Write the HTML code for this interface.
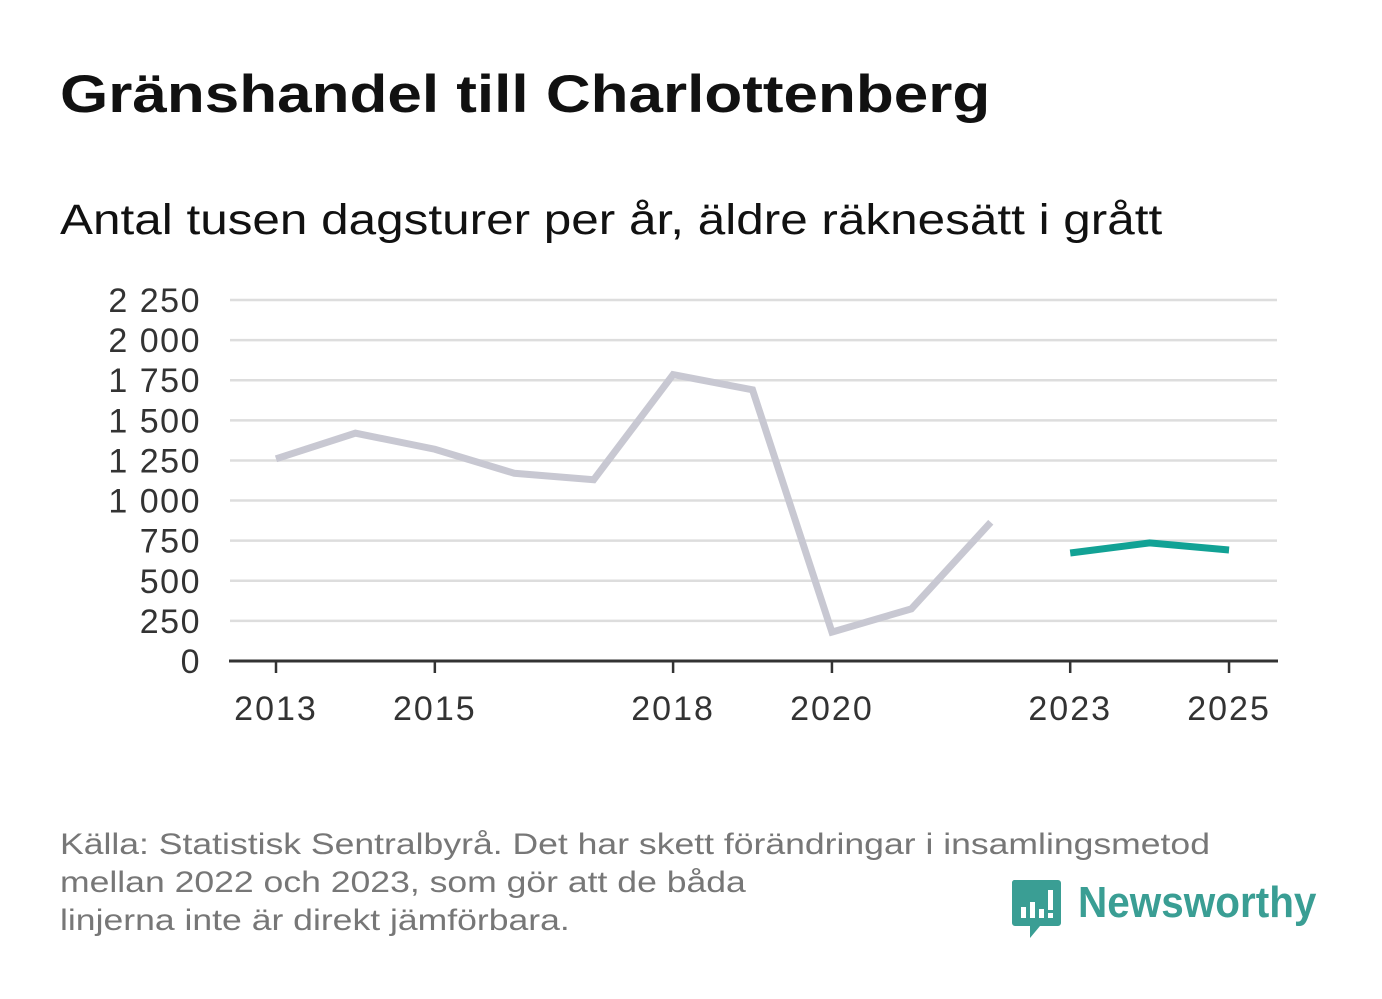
<!DOCTYPE html>
<html><head><meta charset="utf-8"><style>
body{margin:0;width:1382px;height:999px;background:#fff;font-family:"Liberation Sans","DejaVu Sans",sans-serif;overflow:hidden;position:relative}
.t,.s,.f{position:absolute;left:60px;transform-origin:0 0;white-space:nowrap}
.t{top:64px;font-size:53px;font-weight:bold;color:#111;transform:scaleX(1.17)}
.s{top:196px;font-size:43px;color:#111;transform:scaleX(1.15)}
.f{top:826px;font-size:30px;color:#777;line-height:38px;transform:scaleX(1.185)}
.logo{position:absolute;left:1012px;top:880px}
.lt{position:absolute;left:1078px;top:878px;font-size:44px;font-weight:bold;color:#3a9e94;transform-origin:0 0;transform:scaleX(0.92)}
</style></head><body>
<div class="t">Gränshandel till Charlottenberg</div>
<div class="s">Antal tusen dagsturer per år, äldre räknesätt i grått</div>
<svg id="c" width="1382" height="999" style="position:absolute;left:0;top:0"></svg>
<div class="f">Källa: Statistisk Sentralbyrå. Det har skett förändringar i insamlingsmetod<br>mellan 2022 och 2023, som gör att de båda<br>linjerna inte är direkt jämförbara.</div>
<svg class="logo" width="50" height="60">
<path d="M2 0h44a3 3 0 0 1 3 3v40a3 3 0 0 1-3 3H28l-10 12v-12H3a3 3 0 0 1-3-3V3a3 3 0 0 1 2-3z" fill="#3a9e94"/>
<rect x="9" y="27" width="5" height="11" fill="#fff"/><rect x="18" y="22" width="5" height="16" fill="#fff"/><rect x="27" y="29" width="5" height="9" fill="#fff"/><rect x="36" y="10" width="5" height="20" fill="#fff"/><rect x="36" y="33" width="5" height="5" fill="#fff"/>
</svg>
<div class="lt">Newsworthy</div>
<script>
const years=[2013,2014,2015,2016,2017,2018,2019,2020,2021,2022];
const oldValues=[1260,1420,1320,1170,1130,1785,1690,180,325,865];
const newYears=[2023,2024,2025];
const newValues=[673,736,692];
const yTicks=[0,250,500,750,1000,1250,1500,1750,2000,2250];
const xTicks=[2013,2015,2018,2020,2023,2025];
const NS="http://www.w3.org/2000/svg",svg=document.getElementById('c');
const x=v=>276+(v-2013)*79.42, y=v=>661-v*(361/2250);
function mk(t,a){const e=document.createElementNS(NS,t);for(const k in a)e.setAttribute(k,a[k]);svg.appendChild(e);return e;}
const fmt=v=>String(v).replace(/\B(?=(\d{3})+(?!\d))/g,' ');
yTicks.forEach(v=>{
 if(v>0){const g=mk('line',{x1:230,x2:1277,y1:y(v),y2:y(v),stroke:'#ddd','stroke-width':2.5});
 
 }
 const t=mk('text',{x:201,y:y(v)+12,'text-anchor':'end','font-size':34,fill:'#333','letter-spacing':1.5});t.textContent=fmt(v);
 
 
});
const ax=mk('line',{x1:229,x2:1278,y1:661,y2:661,stroke:'#333','stroke-width':3});


xTicks.forEach(v=>{
 const l=mk('line',{x1:x(v),x2:x(v),y1:661,y2:673,stroke:'#333','stroke-width':2.5});
 
 
 const t=mk('text',{x:x(v),y:720,'text-anchor':'middle','font-size':34,fill:'#333','letter-spacing':2});t.textContent=v;
 
 
});
const p1=mk('polyline',{points:years.map((v,i)=>x(v)+','+y(oldValues[i])).join(' '),fill:'none',stroke:'#c8c8d2','stroke-width':7});


const p2=mk('polyline',{points:newYears.map((v,i)=>x(v)+','+y(newValues[i])).join(' '),fill:'none',stroke:'#12a295','stroke-width':7});


</script>
</body></html>
